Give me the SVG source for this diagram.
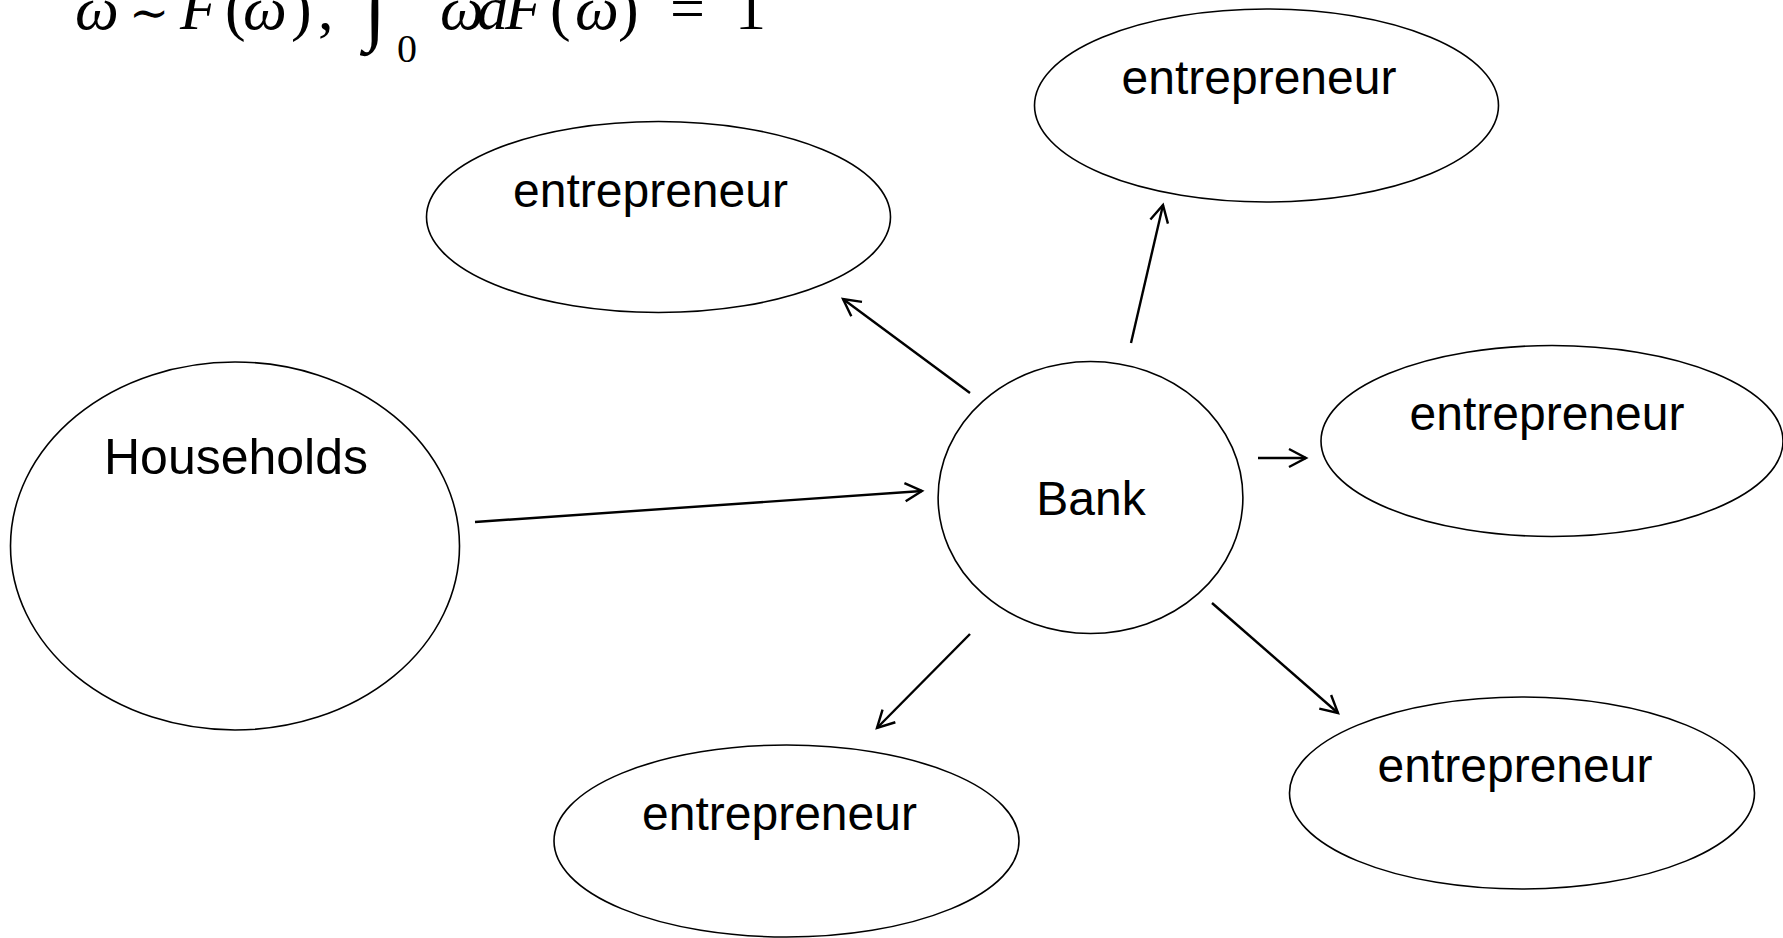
<svg xmlns="http://www.w3.org/2000/svg" width="1783" height="938" viewBox="0 0 1783 938">
<style>
.node{fill:none;stroke:#000;stroke-width:1.6}
.lbl{font-family:"Liberation Sans",Arial,sans-serif;font-size:48px;fill:#000;text-anchor:middle}
.conn line{stroke:#000;stroke-width:2.4;fill:none}
.m{font-family:"Liberation Serif","Times New Roman",serif;font-size:62px;fill:#000}
.i{font-style:italic}
</style>
<defs>
<marker id="ah" markerUnits="userSpaceOnUse" markerWidth="40" markerHeight="40" viewBox="-20 -20 40 40" refX="0" refY="0" orient="auto">
<path d="M-17,-9 L0,0 L-17,9" fill="none" stroke="#000" stroke-width="2.4"/>
</marker>
</defs>
<rect width="1783" height="938" fill="#fff"/>
<g id="formula">
<text class="m i" x="75" y="29">ω</text>
<text class="m" x="129" y="29" style="font-family:'DejaVu Serif',serif;font-size:48px">∼</text>
<text class="m i" x="180" y="29">F</text>
<text class="m" x="225" y="29">(</text>
<text class="m i" x="243" y="29">ω</text>
<text class="m" x="291" y="29">)</text>
<text class="m" x="318" y="29">,</text>
<text class="m i" x="364" y="35" style="font-size:80px">∫</text>
<text class="m" x="397" y="62" style="font-size:40px">0</text>
<text class="m i" x="440" y="29">ω</text>
<text class="m i" x="477" y="29">d</text>
<text class="m i" x="505" y="29">F</text>
<text class="m" x="550" y="29">(</text>
<text class="m i" x="575" y="29">ω</text>
<text class="m" x="618" y="29">)</text>
<text class="m" x="670" y="29">=</text>
<text class="m" x="735" y="29">1</text>
</g>
<g id="households">
<ellipse class="node" cx="235" cy="546" rx="224.5" ry="184"/>
<text class="lbl" x="236" y="474" style="font-size:50px">Households</text>
</g>
<g id="bank">
<ellipse class="node" cx="1090.5" cy="497.5" rx="152.4" ry="136"/>
<text class="lbl" x="1091" y="515">Bank</text>
</g>
<g id="ent-top">
<ellipse class="node" cx="1266.5" cy="105.5" rx="232" ry="96.5"/>
<text class="lbl" x="1259" y="94">entrepreneur</text>
</g>
<g id="ent-upperleft">
<ellipse class="node" cx="658.5" cy="217" rx="232" ry="95.5"/>
<text class="lbl" x="650.5" y="207">entrepreneur</text>
</g>
<g id="ent-right">
<ellipse class="node" cx="1552" cy="441" rx="231" ry="95.5"/>
<text class="lbl" x="1547" y="430">entrepreneur</text>
</g>
<g id="ent-bottomright">
<ellipse class="node" cx="1522" cy="793" rx="232.5" ry="96"/>
<text class="lbl" x="1515" y="782">entrepreneur</text>
</g>
<g id="ent-bottom">
<ellipse class="node" cx="786.5" cy="841" rx="232.5" ry="96"/>
<text class="lbl" x="779.5" y="830">entrepreneur</text>
</g>
<g id="connectors" class="conn">
<line x1="475" y1="522" x2="922" y2="491" marker-end="url(#ah)"/>
<line x1="970" y1="393" x2="843" y2="299" marker-end="url(#ah)"/>
<line x1="1131" y1="343" x2="1163" y2="205" marker-end="url(#ah)"/>
<line x1="1258" y1="458" x2="1306" y2="458" marker-end="url(#ah)"/>
<line x1="970" y1="634" x2="877" y2="728" marker-end="url(#ah)"/>
<line x1="1212" y1="603" x2="1338" y2="713" marker-end="url(#ah)"/>
</g>
</svg>
